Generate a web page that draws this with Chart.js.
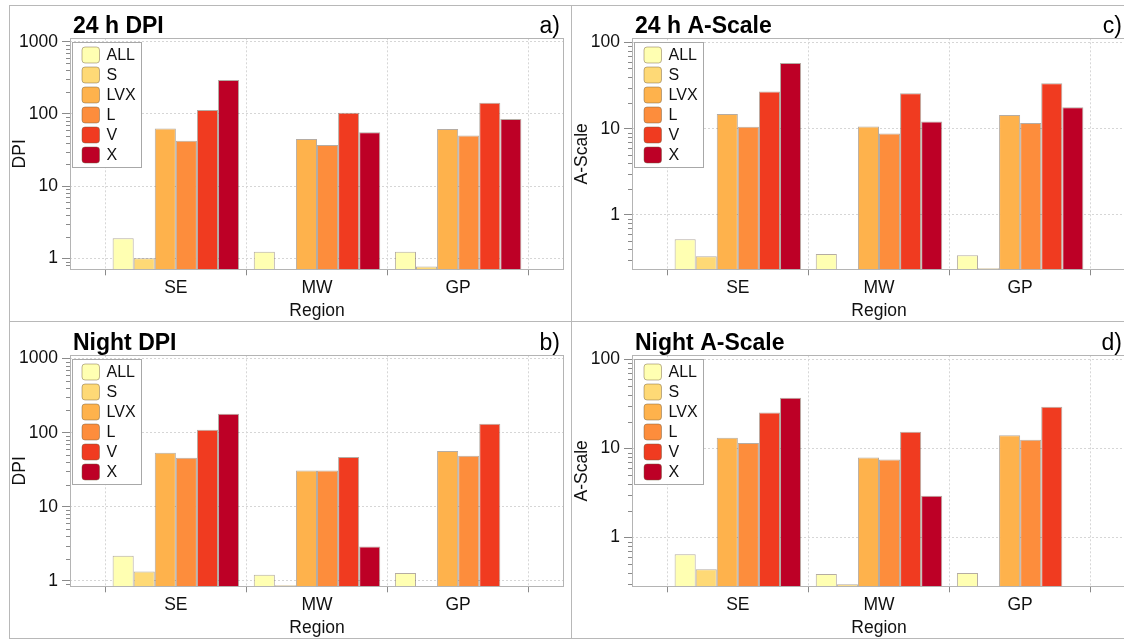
<!DOCTYPE html>
<html lang="en">
<head>
<meta charset="utf-8">
<script src="https://cdn.jsdelivr.net/npm/chart.js@4.4.1/dist/chart.umd.min.js"></script>
<style>
  html, body { margin: 0; padding: 0; background: #fff; overflow: hidden; }
  body { width: 1124px; height: 639px; position: relative; }
  canvas { position: absolute; }
  .rule { position: absolute; background: #b8b8b8; }
</style>
</head>
<body>
<canvas id="dpiDay" width="562" height="317" style="left:9px;top:5px"></canvas>
<canvas id="aDay" width="562" height="317" style="left:571px;top:5px"></canvas>
<canvas id="dpiNight" width="562" height="317" style="left:9px;top:322px"></canvas>
<canvas id="aNight" width="562" height="317" style="left:571px;top:322px"></canvas>

<div class="rule" style="left:9px;top:5px;width:1115px;height:1px"></div>
<div class="rule" style="left:9px;top:321px;width:1115px;height:1px"></div>
<div class="rule" style="left:9px;top:638px;width:1115px;height:1px"></div>
<div class="rule" style="left:9px;top:5px;width:1px;height:634px"></div>
<div class="rule" style="left:571px;top:5px;width:1px;height:634px"></div>

<script>
const regions = ['SE', 'MW', 'GP'];
const classes = ['ALL', 'S', 'LVX', 'L', 'V', 'X'];
const classColors = ['#ffffb2', '#fed976', '#feb24c', '#fd8d3c', '#f03b20', '#bd0026'];

// one row per class, one column per region (null = no events)
const dpiDay = [
  [1.89, 1.23, 1.23],
  [1.0, null, 0.77],
  [63, 45, 62],
  [42.5, 37, 50],
  [113, 104, 143],
  [295, 55.6, 85]
];
const dpiNight = [
  [2.18, 1.21, 1.28],
  [1.34, 0.87, null],
  [53.6, 31, 56.5],
  [45.8, 31, 49],
  [110, 47, 132],
  [181, 2.92, null]
];
const aScaleDay = [
  [0.52, 0.35, 0.34],
  [0.33, null, 0.24],
  [14.8, 10.6, 14.4],
  [10.5, 8.8, 11.6],
  [27, 25.8, 33.6],
  [58, 12.1, 17.7]
];
const aScaleNight = [
  [0.65, 0.39, 0.40],
  [0.44, 0.30, null],
  [13.2, 7.9, 14.1],
  [11.5, 7.5, 12.5],
  [25.4, 15.4, 29.4],
  [37, 2.94, null]
];

// log axis limits [min, max]
const dpiDayRange = [0.704, 1114];
const dpiNightRange = [0.845, 1110];
const aDayRange = [0.233, 112];
const aNightRange = [0.284, 111];

// regions sit at x = 1..3; grid lines fall half way between
const xTickValues = [1, 2, 3];

const FONT = "'Liberation Sans', Arial, Helvetica, sans-serif";
Chart.defaults.font.family = FONT;
Chart.defaults.color = '#111';

const isDecade = v => Math.abs(Math.log10(v) - Math.round(Math.log10(v))) < 1e-9;

function logTicks(min, max) {
  const out = [];
  for (let d = 0.1; d <= 1000; d *= 10) {
    for (let k = 1; k <= 9; k++) {
      const v = +(d * k).toPrecision(6);
      if (v >= min && v <= max) out.push({ value: v, major: isDecade(v) });
    }
  }
  return out;
}

const panelDecor = {
  id: 'panelDecor',
  beforeDatasetsDraw(chart) {
    const { ctx, chartArea: a } = chart;
    ctx.save();
    ctx.strokeStyle = '#b4b4b4';
    ctx.lineWidth = 1;
    ctx.strokeRect(Math.round(a.left) + 0.5, Math.round(a.top) + 0.5,
      Math.round(a.right - a.left) - 1, Math.round(a.bottom - a.top));
    // short minor ticks on the log axis
    const y = chart.scales.y;
    ctx.strokeStyle = '#8a8a8a';
    y.ticks.forEach(t => {
      if (t.major) return;
      const py = Math.round(y.getPixelForValue(t.value)) + 0.5;
      ctx.beginPath();
      ctx.moveTo(a.left - 4, py);
      ctx.lineTo(a.left, py);
      ctx.stroke();
    });
    ctx.restore();
  },
  afterDatasetsDraw(chart) {
    const { ctx, chartArea: a } = chart;
    const sets = chart.data.datasets;
    const bx = a.left + 2, by = a.top + 4, bw = 69, bh = 125;
    ctx.save();
    ctx.fillStyle = '#fff';
    ctx.fillRect(bx, by, bw, bh);
    ctx.strokeStyle = '#a8a8a8';
    ctx.lineWidth = 1;
    ctx.strokeRect(Math.round(bx) + 0.5, Math.round(by) + 0.5, bw, bh);
    ctx.font = '16px ' + FONT;
    ctx.textBaseline = 'middle';
    sets.forEach((ds, i) => {
      const cy = a.top + 16.7 + 20 * i;
      ctx.beginPath();
      ctx.roundRect(a.left + 12, cy - 8, 17.5, 16, 3);
      ctx.fillStyle = ds.backgroundColor;
      ctx.fill();
      ctx.strokeStyle = 'rgba(110,90,60,0.45)';
      ctx.stroke();
      ctx.fillStyle = '#111';
      ctx.fillText(ds.label, a.left + 36.5, cy + 1);
    });
    ctx.restore();
  },
  afterDraw(chart, args, opts) {
    const { ctx, chartArea: a } = chart;
    ctx.save();
    ctx.fillStyle = '#000';
    ctx.textBaseline = 'alphabetic';
    ctx.font = 'bold 23px ' + FONT;
    ctx.textAlign = 'left';
    ctx.fillText(opts.title, a.left + 3, 27.5);
    ctx.font = '23px ' + FONT;
    ctx.textAlign = 'right';
    ctx.fillText(opts.letter, a.right - 4, 27.5);
    ctx.restore();
  }
};

function makePanel(id, title, letter, yTitle, values, range) {
  const datasets = classes.map((c, k) => ({
    label: c,
    data: regions.map((r, i) => ({ x: i + 1, y: values[k][i] })),
    backgroundColor: classColors[k],
    borderColor: 'rgba(90,70,50,0.45)',
    borderWidth: 1,
    categoryPercentage: 0.896,
    barPercentage: 1.0
  }));

  new Chart(document.getElementById(id), {
    type: 'bar',
    data: { datasets },
    plugins: [panelDecor],
    options: {
      responsive: false,
      animation: false,
      devicePixelRatio: 1,
      layout: { padding: { left: 0, right: 7, top: 33.3, bottom: 0 } },
      plugins: {
        legend: { display: false },
        tooltip: { enabled: false },
        panelDecor: { title, letter }
      },
      scales: {
        x: {
          type: 'linear',
          min: 0.25,
          max: 3.75,
          offset: false,
          bounds: 'data',
          afterBuildTicks: s => {
            s.min = 0.25;
            s.max = 3.75;
            s.ticks = xTickValues.map(v => ({ value: v }));
          },
          afterFit: s => { s.height = 52.7; },
          ticks: {
            autoSkip: false,
            maxRotation: 0,
            padding: 2,
            font: { size: 17.5 },
            color: '#111',
            callback: v => regions[v - 1]
          },
          grid: {
            offset: true,
            tickLength: 6,
            color: '#d6d6d6',
            tickColor: '#8a8a8a'
          },
          border: { display: false, dash: [2, 2] },
          title: {
            display: true,
            text: 'Region',
            font: { size: 17.5 },
            color: '#111',
            padding: { top: 0, bottom: 0 }
          }
        },
        y: {
          type: 'logarithmic',
          min: range[0],
          max: range[1],
          afterBuildTicks: s => {
            s.min = range[0];
            s.max = range[1];
            s.ticks = logTicks(range[0], range[1]);
          },
          afterFit: s => { s.width = 61; },
          ticks: {
            autoSkip: false,
            padding: 4,
            font: { size: 17.5 },
            color: '#111',
            callback: v => isDecade(v) ? String(Math.round(v)) : ''
          },
          grid: {
            tickLength: 8,
            color: c => (c.tick && isDecade(c.tick.value)) ? '#d6d6d6' : 'transparent',
            tickColor: c => (c.tick && isDecade(c.tick.value)) ? '#8a8a8a' : 'transparent'
          },
          border: { display: false, dash: [2, 2] },
          title: {
            display: true,
            text: yTitle,
            font: { size: 17.5 },
            color: '#111',
            padding: { top: 1, bottom: 0 }
          }
        }
      }
    }
  });
}

makePanel('dpiDay', '24 h DPI', 'a)', 'DPI', dpiDay, dpiDayRange);
makePanel('aDay', '24 h A-Scale', 'c)', 'A-Scale', aScaleDay, aDayRange);
makePanel('dpiNight', 'Night DPI', 'b)', 'DPI', dpiNight, dpiNightRange);
makePanel('aNight', 'Night A-Scale', 'd)', 'A-Scale', aScaleNight, aNightRange);
</script>
</body>
</html>
